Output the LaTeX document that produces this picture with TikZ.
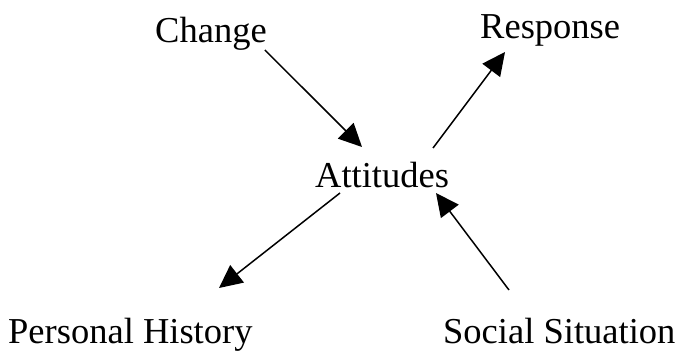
\documentclass[tikz,border=0pt]{standalone}
\usepackage{fontspec}
\setmainfont{Liberation Serif}
\usetikzlibrary{arrows.meta}
\begin{document}
\begin{tikzpicture}[x=1pt,y=1pt,
  label/.style={inner sep=0pt,anchor=base west,font=\fontsize{36.5}{40}\selectfont},
  arr/.style={line width=1.5pt,-{Triangle[length=23pt,width=22pt]}}]
\useasboundingbox (0,0) rectangle (683,354);
% concept labels
\node[label] (change) at (155,311) {Change};
\node[label] (resp) at (480,315) {Response};
\node[label] (att) at (315,166) {Attitudes};
\node[label] (hist) at (8,11) {Personal History};
\node[label] (soc) at (443,11) {Social Situation};
% influences
\draw[arr] ([shift={(-2,-7)}]change.base east) -- ([shift={(47,41)}]att.base west);
\draw[arr] ([shift={(118,40)}]att.base west) -- ([shift={(25,-13)}]resp.base west);
\draw[arr] ([shift={(25,-5)}]att.base west) -- ([shift={(211,55)}]hist.base west);
\draw[arr] ([shift={(66,53)}]soc.base west) -- ([shift={(121,-5)}]att.base west);
\end{tikzpicture}
\end{document}
